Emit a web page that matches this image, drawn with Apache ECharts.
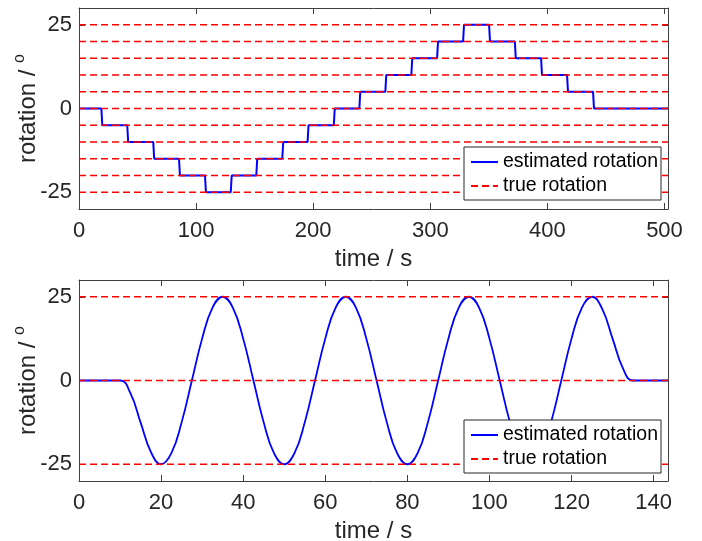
<!DOCTYPE html>
<html>
<head>
<meta charset="utf-8">
<script src="https://cdn.jsdelivr.net/npm/echarts@6/dist/echarts.min.js"></script>
<style>
html,body{margin:0;padding:0;background:#fff;}
#c{width:702px;height:541px;}
</style>
</head>
<body>
<div id="c"></div>
<script>
// ---------- data: top panel (step test) ----------
const topXMax = 503;
const topXTicks = [0, 100, 200, 300, 400, 500];
const topYTicks = [-25, 0, 25];
const topTrueLevels = [-25, -20, -15, -10, -5, 0, 5, 10, 15, 20, 25];
const topStepTimes = [19.5, 41.6, 63.8, 85.8, 108, 130, 151.8, 174, 195.6, 218,
                      239.8, 262, 284.2, 306.2, 328.4, 350.6, 372.6, 395, 417.2, 439.4];
const topStepLevels = [0, -5, -10, -15, -20, -25, -20, -15, -10, -5,
                       0, 5, 10, 15, 20, 25, 20, 15, 10, 5, 0];

// ---------- data: bottom panel (sinusoidal test) ----------
const botXMax = 143.5;
const botXTicks = [0, 20, 40, 60, 80, 100, 120, 140];
const botYTicks = [-25, 0, 25];
const botTrueLevels = [-25, 0, 25];
const botTimes = [0, 10, 12.5, 15, 17.5, 20, 22.5, 25, 27.5, 30, 32.5, 35, 37.5, 40, 42.5, 45,
                  47.5, 50, 52.5, 55, 57.5, 60, 62.5, 65, 67.5, 70, 72.5, 75, 77.5, 80, 82.5,
                  85, 87.5, 90, 92.5, 95, 97.5, 100, 102.5, 105, 107.5, 110, 112.5, 115, 117.5,
                  120, 122.5, 125, 127.5, 130, 132.5, 135, 143.5];
const botValues = [0, 0, -3.7, -12.5, -21.3, -25, -21.7, -12.5, 0, 12.5, 21.7, 25, 21.7, 12.5, 0, -12.5,
                   -21.7, -25, -21.7, -12.5, 0, 12.5, 21.7, 25, 21.7, 12.5, 0, -12.5, -21.7, -25, -21.7,
                   -12.5, 0, 12.5, 21.7, 25, 21.7, 12.5, 0, -12.5, -21.7, -25, -21.7, -12.5, 0,
                   12.5, 21.7, 25, 21.3, 12.5, 3.7, 0, 0];

// ---------- build ----------
const RAMP = 0.4;
const topEst = [[0, topStepLevels[0]]];
topStepTimes.forEach((t, i) => {
  topEst.push([t - RAMP, topStepLevels[i]]);
  topEst.push([t + RAMP, topStepLevels[i + 1]]);
});
topEst.push([topXMax, topStepLevels[topStepLevels.length - 1]]);
const botEst = botTimes.map((t, i) => [t, botValues[i]]);

function levelLines(levels, xmax) {
  const out = [];
  levels.forEach((l, i) => {
    if (i > 0) out.push([xmax, '-']);
    out.push([0, l]);
    out.push([xmax, l]);
  });
  return out;
}

const FONT = 'Liberation Sans, Arial, Helvetica, sans-serif';
const TXT = '#262626';
const AX = '#404040';
const RED = '#ff0000';
const BLUE = '#0000ff';
const FS_TICK = 22;
const FS_NAME = 24;
const FS_LEG = 19.5;

function mkX(gi, max, ticks) {
  return [
    {
      type: 'value', gridIndex: gi, min: 0, max: max, position: 'bottom',
      name: 'time / s', nameLocation: 'middle', nameGap: 38, nameMoveOverlap: false,
      nameTextStyle: { fontFamily: FONT, fontSize: FS_NAME, color: TXT },
      axisLine: { show: true, onZero: false, lineStyle: { color: AX, width: 1 } },
      axisTick: { show: true, inside: true, length: 6, customValues: ticks, lineStyle: { color: AX } },
      axisLabel: { customValues: ticks, fontFamily: FONT, fontSize: FS_TICK, color: TXT, margin: 11 },
      splitLine: { show: false }
    },
    {
      type: 'value', gridIndex: gi, min: 0, max: max, position: 'top',
      axisLine: { show: true, onZero: false, lineStyle: { color: AX, width: 1 } },
      axisTick: { show: true, inside: true, length: 6, customValues: ticks, lineStyle: { color: AX } },
      axisLabel: { show: false },
      splitLine: { show: false }
    }
  ];
}
function mkY(gi, ticks) {
  return [
    {
      type: 'value', gridIndex: gi, min: -30, max: 30, position: 'left',
      name: '{n|rotation / }{s|o}', nameLocation: 'middle', nameGap: 39, nameMoveOverlap: false,
      nameTextStyle: {
        fontFamily: FONT, fontSize: FS_NAME, color: TXT,
        rich: {
          n: { fontFamily: FONT, fontSize: FS_NAME, color: TXT, lineHeight: 28, verticalAlign: 'bottom' },
          s: { fontFamily: FONT, fontSize: 16, color: TXT, verticalAlign: 'top', lineHeight: 28 }
        }
      },
      axisLine: { show: true, onZero: false, lineStyle: { color: AX, width: 1 } },
      axisTick: { show: true, inside: true, length: 6, customValues: ticks, lineStyle: { color: AX } },
      axisLabel: { customValues: ticks, fontFamily: FONT, fontSize: FS_TICK, color: TXT, margin: 7 },
      splitLine: { show: false }
    },
    {
      type: 'value', gridIndex: gi, min: -30, max: 30, position: 'right',
      axisLine: { show: true, onZero: false, lineStyle: { color: AX, width: 1 } },
      axisTick: { show: true, inside: true, length: 6, customValues: ticks, lineStyle: { color: AX } },
      axisLabel: { show: false },
      splitLine: { show: false }
    }
  ];
}

const series = [
  {
    name: 'estimated rotation', type: 'line', xAxisIndex: 0, yAxisIndex: 0,
    data: topEst, showSymbol: false, symbol: 'none', animation: false, color: BLUE,
    lineStyle: { color: BLUE, width: 2 }, itemStyle: { color: BLUE }, z: 2
  },
  {
    name: 'true rotation', type: 'line', xAxisIndex: 0, yAxisIndex: 0,
    data: levelLines(topTrueLevels, topXMax), connectNulls: false,
    showSymbol: false, symbol: 'none', animation: false, color: RED,
    lineStyle: { color: RED, width: 1.5, type: [7, 4] }, itemStyle: { color: RED }, z: 3
  },
  {
    name: 'estimated rotation', type: 'line', xAxisIndex: 2, yAxisIndex: 2,
    data: botEst, showSymbol: false, symbol: 'none', animation: false, smooth: 0.45, color: BLUE,
    lineStyle: { color: BLUE, width: 1.8 }, itemStyle: { color: BLUE }, z: 2
  },
  {
    name: 'true rotation', type: 'line', xAxisIndex: 2, yAxisIndex: 2,
    data: levelLines(botTrueLevels, botXMax), connectNulls: false,
    showSymbol: false, symbol: 'none', animation: false, color: RED,
    lineStyle: { color: RED, width: 1.5, type: [7, 4] }, itemStyle: { color: RED }, z: 3
  }
];

function mkLegend(top) {
  return {
    orient: 'vertical', left: 464, top: top, itemWidth: 27, itemHeight: 14, itemGap: 4,
    padding: [5, 3, 4, 6], borderColor: '#262626', borderWidth: 1, backgroundColor: '#ffffff',
    textStyle: { fontFamily: FONT, fontSize: FS_LEG, color: '#000' },
    itemStyle: { opacity: 0 },
    data: ['estimated rotation', 'true rotation'],
    selectedMode: false, z: 10
  };
}

const chart = echarts.init(document.getElementById('c'), null, { renderer: 'canvas' });
chart.setOption({
  animation: false,
  backgroundColor: '#ffffff',
  grid: [
    { left: 79, top: 8, width: 589, height: 201, containLabel: false, outerBoundsMode: 'none' },
    { left: 79, top: 280, width: 589, height: 201, containLabel: false, outerBoundsMode: 'none' }
  ],
  xAxis: [...mkX(0, topXMax, topXTicks), ...mkX(1, botXMax, botXTicks)],
  yAxis: [...mkY(0, topYTicks), ...mkY(1, botYTicks)],
  legend: [mkLegend(147), mkLegend(420)],
  series: series
});
</script>
</body>
</html>
